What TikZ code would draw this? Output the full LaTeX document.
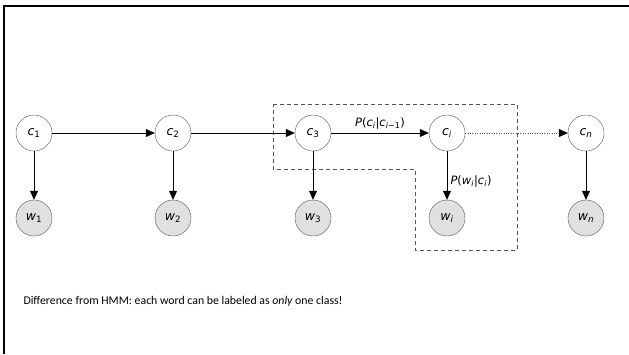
\documentclass[tikz,border=0pt]{standalone}
\usepackage{fontspec}
\setmainfont{Carlito}
\newfontfamily\dvfont{DejaVu Sans}
\usepackage{tikz}
\usetikzlibrary{arrows.meta,positioning}

\definecolor{rimgray}{HTML}{555555}
\definecolor{obsgray}{HTML}{E0E0E0}

\newcommand{\vr}[2]{\textit{#1}\textsubscript{#2}}

\begin{document}
\begin{tikzpicture}[x=1pt,y=-1pt,node distance=139pt,on grid,
    font=\dvfont\fontsize{12.5}{14}\selectfont,
    hidden/.style={circle,draw=rimgray,fill=white,minimum size=36pt,inner sep=0pt},
    seen/.style={hidden,fill=obsgray},
    >={Triangle[length=9pt,width=8pt,color=black]}]
  \useasboundingbox (0,0) rectangle (629,354);
  \draw[line width=2pt] (4,354) -- (4,6) -- (629,6);

  \node[hidden] (c1) at (34,133) {\vr{c}{1}};
  \node[hidden] (c2) [right=of c1] {\vr{c}{2}};
  \node[hidden] (c3) [right=140pt of c2] {\vr{c}{3}};
  \node[hidden] (ci) [right=134pt of c3] {\vr{c}{\textit{i}}};
  \node[hidden] (cn) [right=of ci] {\vr{c}{\textit{n}}};
  \node[seen] (w1) [below=85pt of c1] {\vr{w}{1}};
  \node[seen] (w2) [below=85pt of c2] {\vr{w}{2}};
  \node[seen] (w3) [below=85pt of c3] {\vr{w}{3}};
  \node[seen] (wi) [below=85pt of ci] {\vr{w}{\textit{i}}};
  \node[seen] (wn) [below=85pt of cn] {\vr{w}{\textit{n}}};

  % plate round c3 -> ci -> wi
  \draw[rimgray,dash pattern=on 4pt off 3pt] (273,104) -- (517,104) -- (517,250)
    -- (415,250) -- (415,169) -- (273,169) -- cycle;

  \path[->]
     (c1) edge (c2)
     (c2) edge (c3)
     (c3) edge node[above,font=\dvfont\fontsize{11.5}{13}\selectfont]
        {\textit{P}(\vr{c}{\textit{i}}|\vr{c}{\textit{i}−1})} (ci)
     (ci) edge[dotted,rimgray] (cn)
     (c1) edge (w1)
     (c2) edge (w2)
     (c3) edge (w3)
     (ci) edge node[right,pos=0.62,font=\dvfont\fontsize{11.5}{13}\selectfont]
        {\textit{P}(\vr{w}{\textit{i}}|\vr{c}{\textit{i}})} (wi)
     (cn) edge (wn)
  ;

  \node[anchor=west,font=\fontsize{11.8}{14}\selectfont] (note) at (20,301)
    {Difference from HMM: each word can be labeled as {\itshape only} one class!};
\end{tikzpicture}
\end{document}
